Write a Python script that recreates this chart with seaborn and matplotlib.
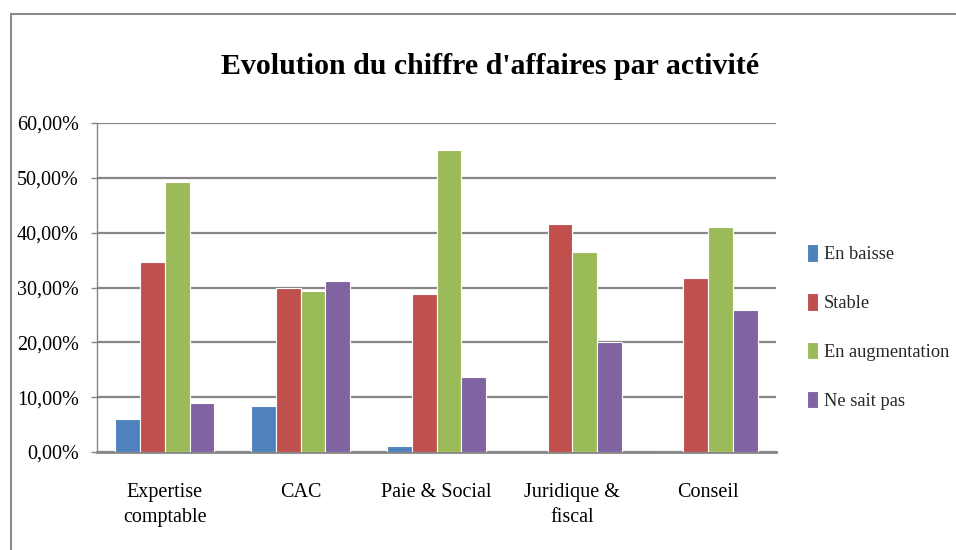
import matplotlib
matplotlib.use("Agg")
import matplotlib.pyplot as plt
import seaborn as sns
import pandas as pd
from matplotlib.patches import Rectangle
from matplotlib.ticker import FuncFormatter

categories = ["Expertise\ncomptable", "CAC", "Paie & Social", "Juridique &\nfiscal", "Conseil"]
series = ["En baisse", "Stable", "En augmentation", "Ne sait pas"]
en_baisse = [6.0, 8.4, 1.1, 0.0, 0.0]
stable = [34.65, 29.9, 28.9, 41.6, 31.7]
en_augmentation = [49.3, 29.4, 55.1, 36.5, 41.0]
ne_sait_pas = [9.0, 31.2, 13.7, 20.1, 25.9]
colors = ["#4F81BD", "#C0504D", "#9BBB59", "#8064A2"]
yticks = [0, 10, 20, 30, 40, 50, 60]
title = "Evolution du chiffre d'affaires par activité"

rows = []
for s, vals in zip(series, [en_baisse, stable, en_augmentation, ne_sait_pas]):
    for c, v in zip(categories, vals):
        rows.append({"cat": c, "serie": s, "val": v})
df = pd.DataFrame(rows)

sns.set_theme(style="white")
plt.rcParams["font.family"] = ["Liberation Serif", "DejaVu Serif"]

fig = plt.figure(figsize=(9.56, 5.50), dpi=100)
ax = fig.add_axes([97 / 956, 98 / 550, 679 / 956, 329 / 550])

# outer chart frame
fig.patches.append(Rectangle((11 / 956, -0.05), 1.0, (550 - 14) / 550 + 0.05,
                             transform=fig.transFigure, fill=False,
                             edgecolor="#8C8C8C", linewidth=1.5, zorder=0))

sns.barplot(data=df, x="cat", y="val", hue="serie", order=categories,
            hue_order=series, palette=colors, width=0.73, gap=0,
            edgecolor="white", linewidth=0.8, saturation=1, ax=ax, zorder=3)

fs = 14.5
ax.set_ylim(0, 60)
ax.set_yticks(yticks)
ax.yaxis.set_major_formatter(FuncFormatter(lambda v, p: f"{v:.2f}%".replace(".", ",")))
ax.grid(axis="y", color="#868686", linewidth=1.6, zorder=0)
ax.set_axisbelow(True)
for side in ["top", "right"]:
    ax.spines[side].set_visible(False)
ax.spines["left"].set_color("#868686")
ax.spines["left"].set_linewidth(1.0)
ax.spines["bottom"].set_color("#868686")
ax.spines["bottom"].set_linewidth(2.0)
ax.tick_params(axis="y", length=4, width=1, color="#868686", pad=9, labelsize=fs, left=True)
ax.tick_params(axis="x", length=0, pad=22, labelsize=fs)
for lab in ax.get_yticklabels():
    lab.set_color("black")
for lab in ax.get_xticklabels():
    lab.set_color("black")
    lab.set_linespacing(1.45)
ax.set_xlabel("")
ax.set_ylabel("")

handles, labels = ax.get_legend_handles_labels()
ax.legend(handles, labels, loc="center left", bbox_to_anchor=(807 / 956, (550 - 327) / 550),
          bbox_transform=fig.transFigure, frameon=False, fontsize=13.2,
          handlelength=0.6, handleheight=1.1, handletextpad=0.3, labelspacing=1.62,
          borderpad=0, borderaxespad=0)

fig.text(490 / 956, (550 - 67) / 550, title, ha="center", va="center",
         fontsize=21.5, fontweight="bold", color="black")

fig.savefig("out.png", dpi=100)
